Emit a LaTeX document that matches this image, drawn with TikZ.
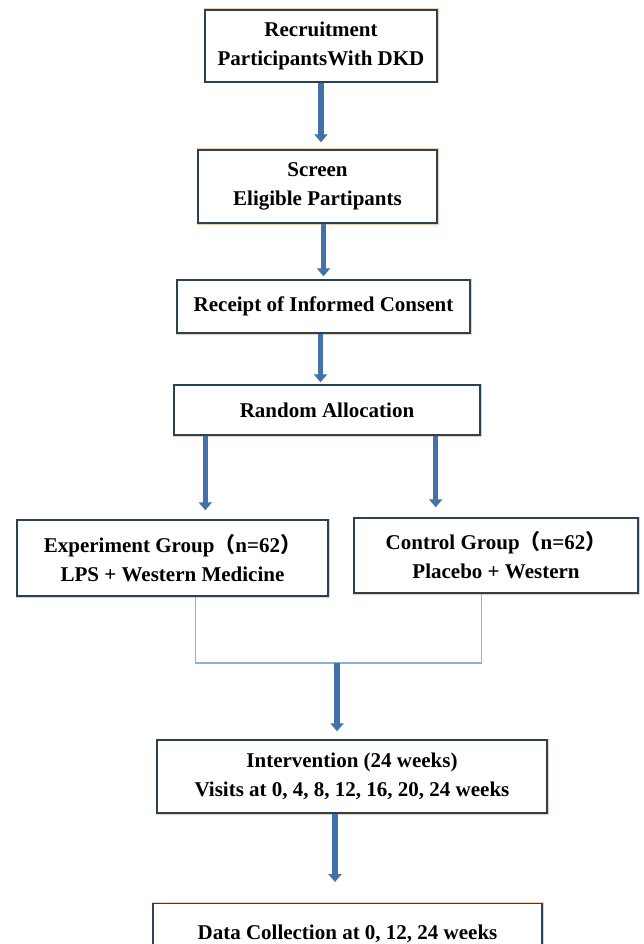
\documentclass[tikz,border=0pt]{standalone}
\usepackage{fontspec}
\setmainfont{Liberation Serif}
\newfontfamily\cjk{Noto Sans CJK SC}
\usetikzlibrary{arrows.meta,calc}
\definecolor{boxline}{HTML}{2A4254}
\definecolor{arrowblue}{HTML}{4272A8}
\definecolor{thinblue}{HTML}{8AB2D2}
\definecolor{halo}{HTML}{F2CDB6}
\begin{document}
\begin{tikzpicture}[x=1pt,y=-1pt,
  box/.style={draw=boxline, line width=1.4pt, fill=white, inner sep=0pt, align=center,
    font=\fontsize{21}{29}\selectfont\bfseries, preaction={draw=halo, line width=3pt}},
  bigarrow/.style={draw=arrowblue, line width=5.5pt, -{Triangle[width=13pt,length=8pt]}},
  thinline/.style={draw=thinblue, line width=1.2pt}]
\useasboundingbox (0,0) rectangle (644,944);
\fill[white] (0,0) rectangle (644,944);
\clip (0,0) rectangle (644,944);

\node[box, minimum width=232pt, minimum height=72pt] (b1) at (321,46) {Recruitment\\ParticipantsWith DKD};
\node[box, minimum width=239pt, minimum height=73pt] (b2) at (317.5,186.5) {Screen\\Eligible Partipants};
\node[box, minimum width=293pt, minimum height=53pt] (b3) at (323.5,306.5) {Receipt of Informed Consent};
\node[box, minimum width=306pt, minimum height=50pt] (b4) at (327,410) {Random Allocation};
\node[box, minimum width=311pt, minimum height=76pt] (b5) at (172.5,558) {Experiment Group{\cjk （}n=62{\cjk ）}\\LPS + Western Medicine};
\node[box, minimum width=284pt, minimum height=75pt] (b6) at (496,555.5) {Control Group{\cjk （}n=62{\cjk ）}\\Placebo + Western};
\node[box, minimum width=390pt, minimum height=73pt] (b7) at (352,776.5) {Intervention (24 weeks)\\Visits at 0, 4, 8, 12, 16, 20, 24 weeks};
\node[box, anchor=north, minimum width=389pt, text height=30pt, text depth=40pt, inner ysep=6pt] (b8) at (347.5,903) {Data Collection at 0, 12, 24 weeks};

\draw[bigarrow, shorten >=7pt] (b1.south) -- (b1.south |- b2.north);
\draw[bigarrow, shorten >=3pt] (b3.north |- b2.south) -- (b3.north);
\draw[bigarrow, shorten >=2pt] ([xshift=-3pt]b3.south) -- ([xshift=-3pt]b3.south |- b4.north);

\coordinate (la) at ([xshift=32pt]b4.south west);
\coordinate (ra) at ([xshift=-45pt]b4.south east);
\draw[bigarrow, shorten >=9pt] (la) -- (la |- b5.north);
\draw[bigarrow, shorten >=10pt] (ra) -- (ra |- b6.north);

\coordinate (p5) at ([xshift=179pt]b5.south west);
\coordinate (p6) at ([xshift=128pt]b6.south west);
\coordinate (j) at (337,663);
\draw[thinline] (p5) |- (j) -| (p6);
\draw[bigarrow, shorten >=8pt] (j) -- (j |- b7.north);
\draw[bigarrow, shorten >=21pt] ([xshift=-17pt]b7.south) -- ([xshift=-17pt]b7.south |- b8.north);
\end{tikzpicture}
\end{document}
